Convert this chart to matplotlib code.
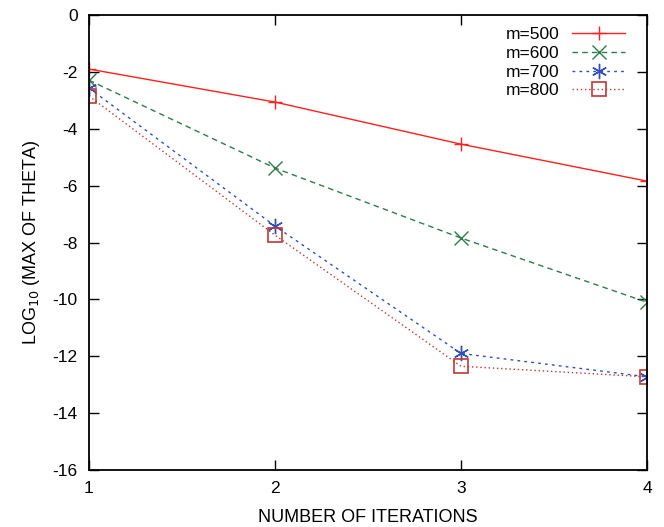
import numpy as np
import matplotlib.pyplot as plt

plt.rcParams['font.family'] = ['Liberation Sans', 'DejaVu Sans']
plt.rcParams['axes.unicode_minus'] = False

# Data
iterations = [1, 2, 3, 4]
m500 = [-1.90, -3.06, -4.54, -5.84]
m600 = [-2.29, -5.38, -7.84, -10.10]
m700 = [-2.57, -7.42, -11.90, -12.72]
m800 = [-2.85, -7.74, -12.35, -12.72]

labels = ['m=500', 'm=600', 'm=700', 'm=800']
colors = ['#ff2020', '#2e7d4a', '#3050b8', '#c03838']
styles = ['-', (0, (4, 3)), (0, (2, 3)), (0, (1, 2))]
markers = ['+', 'x', '*', 's']

fig = plt.figure(figsize=(6.64, 5.27), dpi=100)
ax = fig.add_axes([0.134, 0.108, 0.8404, 0.8635])

for ys, lab, c, ls, mk in zip([m500, m600, m700, m800], labels, colors, styles, markers):
    if mk == '*':
        # gnuplot style asterisk: plus and cross together
        ax.plot(iterations, ys, color=c, linestyle=ls, linewidth=1.0,
                marker=(6, 2, 0), markersize=11, markeredgewidth=1.0,
                label=lab)
    elif mk == 's':
        ax.plot(iterations, ys, color=c, linestyle=ls, linewidth=1.0,
                marker='s', markersize=9.5, markerfacecolor='none',
                markeredgewidth=1.2, label=lab)
    else:
        ax.plot(iterations, ys, color=c, linestyle=ls, linewidth=1.0,
                marker=mk, markersize=10.5, markeredgewidth=1.0, label=lab)

ax.set_xlim(1, 4)
ax.set_ylim(-16, 0)
ax.set_xticks([1, 2, 3, 4])
ax.set_yticks(np.arange(-16, 1, 2))
ax.tick_params(direction='in', length=7, width=1.0, top=True, right=True,
               labelsize=12.5, pad=8)
for s in ax.spines.values():
    s.set_linewidth(1.3)

ax.set_xlabel('NUMBER OF ITERATIONS', fontsize=13, labelpad=9)
ax.set_ylabel('LOG$_{10}$ (MAX OF THETA)', fontsize=13, labelpad=8)

ax.legend(loc='upper right', bbox_to_anchor=(0.9606, 0.973), frameon=False,
          markerfirst=False, fontsize=12.5, handlelength=3.05,
          labelspacing=0.2, borderaxespad=0, borderpad=0,
          handletextpad=0.7)

fig.savefig('out.png', dpi=100)
